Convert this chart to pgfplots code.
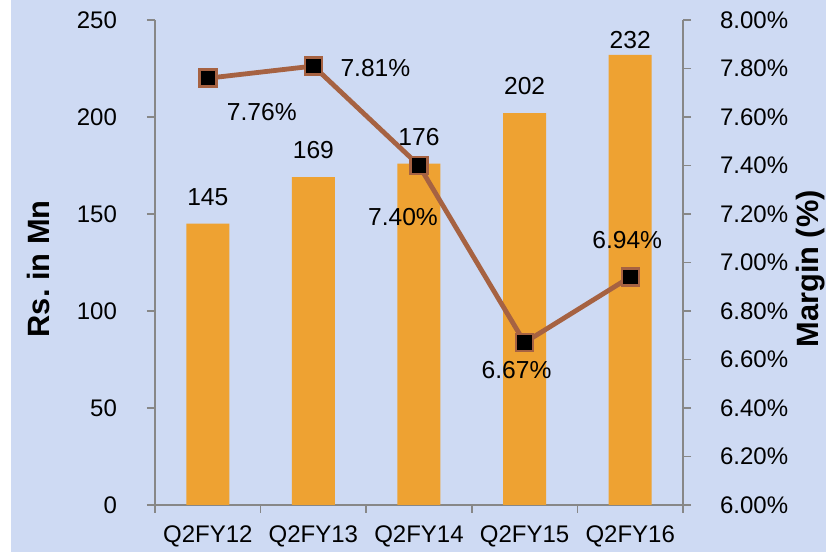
\documentclass[border=0pt]{standalone}
\usepackage{pgfplots}
\pgfplotsset{compat=1.18}
\usepackage{pgfplotstable}
\usepackage{fontspec}
\setmainfont{Liberation Sans}
\definecolor{barc}{RGB}{238,162,50}
\definecolor{linec}{RGB}{166,98,66}
\definecolor{axc}{RGB}{135,135,135}
\definecolor{bgc}{RGB}{206,218,243}

\pgfplotstableread{
x y dy
0 145 13.5
1 169 13.5
2 176 13.5
3 202 13.5
4 232 7.5
}\bars
\pgfplotstableread{
x y dx dy
0 7.76 27 -17
1 7.81 31 -1
2 7.40 -8 -26
3 6.67 -4 -14
4 6.94 -1.5 18.5
}\margin

\begin{document}
\begin{tikzpicture}
\fill[bgc] (-72pt,-23.5pt) rectangle (335.5pt,252.5pt);
\begin{axis}[
  at={(0,0)}, anchor=south west,
  scale only axis, width=264pt, height=242.5pt,
  xmin=-0.5, xmax=4.5, ymin=0, ymax=250,
  axis x line*=bottom, axis y line*=left,
  axis line style={axc, line width=0.8pt},
  xtick={0,1,2,3,4},
  xticklabels={Q2FY12,Q2FY13,Q2FY14,Q2FY15,Q2FY16},
  major x tick style={draw=none},
  minor xtick={-0.5,0.5,1.5,2.5,3.5,4.5},
  ytick={0,50,100,150,200,250},
  tick align=outside, major tick length=4pt, minor tick length=4pt,
  tick style={axc, line width=0.8pt},
  tick label style={font=\fontsize{12}{14}\selectfont, text=black},
  xticklabel style={yshift=-3pt},
  yticklabel style={xshift=-11.5pt},
  /pgf/number format/assume math mode=true,
  ylabel={\fontsize{15.4}{18}\selectfont\bfseries Rs.\ in Mn},
  ylabel style={at={(axis description cs:-0.22,0.487)}, anchor=center},
  ybar, bar width=21.5pt,
]
\addplot[fill=barc, draw=none,
  visualization depends on={\thisrow{dy} \as \dyv},
  nodes near coords,
  nodes near coords style={anchor=center, yshift=\dyv pt, font=\fontsize{12.3}{15}\selectfont, text=black},
] table[x=x, y=y] {\bars};
\end{axis}
\begin{axis}[
  at={(0,0)}, anchor=south west,
  scale only axis, width=264pt, height=242.5pt,
  xmin=-0.5, xmax=4.5, ymin=6, ymax=8,
  axis x line=none, axis y line*=right,
  axis line style={axc, line width=0.8pt},
  ytick={6,6.2,6.4,6.6,6.8,7,7.2,7.4,7.6,7.8,8},
  yticklabel={\pgfmathprintnumber[fixed,fixed zerofill,precision=2]{\tick}\%},
  tick align=outside, major tick length=4pt,
  tick style={axc, line width=0.8pt},
  tick label style={font=\fontsize{12}{14}\selectfont, text=black},
  yticklabel style={xshift=11pt},
  /pgf/number format/assume math mode=true,
  ylabel={\fontsize{15.4}{18}\selectfont\bfseries Margin (\%)},
  ylabel style={at={(axis description cs:1.241,0.487)}, anchor=center},
]
\addplot[linec, line width=2.4pt, mark=square*, mark size=4.25pt,
  mark options={fill=black, draw=linec, line width=1.2pt},
  visualization depends on={\thisrow{dx} \as \dxv},
  visualization depends on={\thisrow{dy} \as \dyv},
  point meta=y,
  nodes near coords={\pgfmathprintnumber[fixed,fixed zerofill,precision=2]{\pgfplotspointmeta}\%},
  nodes near coords style={anchor=center, xshift=\dxv pt, yshift=\dyv pt, font=\fontsize{12.3}{15}\selectfont, text=black},
] table[x=x, y=y] {\margin};
\end{axis}
\pgfresetboundingbox
\path[use as bounding box] (-77.5pt,-23.5pt) rectangle (335.5pt,252.5pt);
\end{tikzpicture}
\end{document}
